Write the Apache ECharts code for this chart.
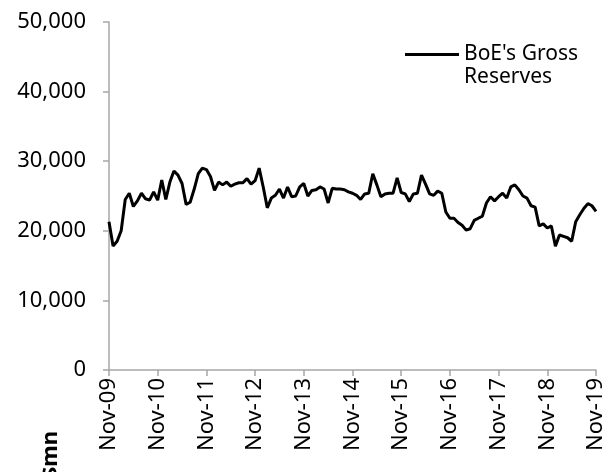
<!DOCTYPE html>
<html>
<head>
    <meta charset="utf-8">
    <title>BoE gross reserves</title>
    <script src="https://cdn.jsdelivr.net/npm/echarts@6/dist/echarts.min.js"></script>
</head>
<body style="margin:0">
<div id="main" style="width:607px;height:472px"></div>
<script type="text/javascript">

    // year ticks shown on the x axis
    var tickLabels = ['Nov-09', 'Nov-10', 'Nov-11', 'Nov-12', 'Nov-13', 'Nov-14',
        'Nov-15', 'Nov-16', 'Nov-17', 'Nov-18', 'Nov-19'];
    var monthNames = ['Nov', 'Dec', 'Jan', 'Feb', 'Mar', 'Apr', 'May', 'Jun', 'Jul', 'Aug', 'Sep', 'Oct'];

    // BoE's gross reserves, $mn, monthly Nov-09 .. Nov-19
    var reserves = [
        21300, 17800, 18500, 20000, 24500, 25400, 23500, 24300, 25400, 24600, 24400, 25600,
        24400, 27300, 24500, 27000, 28600, 28000, 26800, 23800, 24100, 26000, 28200, 29000,
        28800, 27800, 25800, 27000, 26600, 27000, 26400, 26700, 26900, 26900, 27500, 26700,
        27200, 29000, 26300, 23300, 24700, 25100, 26000, 24700, 26300, 24900, 25000, 26300,
        26800, 25000, 25800, 25900, 26300, 26000, 24000, 26100, 26000, 26000, 25900, 25600,
        25400, 25100, 24500, 25300, 25400, 28200, 26600, 24900, 25300, 25400, 25400, 27600,
        25500, 25300, 24200, 25300, 25400, 28000, 26700, 25300, 25100, 25700, 25400, 22700,
        21800, 21800, 21200, 20800, 20100, 20300, 21500, 21800, 22100, 24000, 24900, 24300,
        24900, 25400, 24700, 26300, 26600, 25900, 25000, 24700, 23600, 23400, 20700, 21000,
        20400, 20700, 17800, 19400, 19200, 19000, 18500, 21300, 22300, 23200, 23900, 23600,
        22800
    ];

    // month categories, built from the year tick labels
    var months = [];
    for (var i = 0; i < reserves.length; i++) {
        var yr = tickLabels[Math.floor(i / 12)].slice(4);
        if (i % 12 >= 2) yr = tickLabels[Math.floor(i / 12) + 1].slice(4);
        months.push(i % 12 === 0 ? tickLabels[i / 12] : monthNames[i % 12] + '-' + yr);
    }

    var font = 'Noto Sans';
    var axisColor = '#a6a6a6';

    var myChart = echarts.init(document.getElementById('main'));

    myChart.setOption({
        animation: false,
        textStyle: { fontFamily: font, color: '#000' },
        grid: { left: 109, right: 9, top: 22, bottom: 102 },
        legend: {
            right: 24,
            top: 39,
            itemWidth: 54,
            itemHeight: 3,
            itemGap: 0,
            icon: 'rect',
            textStyle: { fontFamily: font, fontSize: 21, color: '#000' },
            data: ["BoE's Gross Reserves"],
            formatter: function () { return "BoE's Gross"; }
        },
        graphic: [
            {   // legend text wraps onto a second line
                type: 'text', left: 464, top: 67,
                style: { text: 'Reserves', font: '21px "Noto Sans"', fill: '#000' }
            },
            {   // unit label, clipped at the bottom
                type: 'text', left: 40, top: 431, rotation: Math.PI / 2,
                style: { text: '$mn', font: 'bold 22px "Noto Sans"', fill: '#000' }
            }
        ],
        xAxis: {
            type: 'category',
            data: months,
            boundaryGap: false,
            axisLine: { lineStyle: { color: axisColor, width: 1.5 } },
            axisTick: {
                length: 6,
                lineStyle: { color: axisColor, width: 1.5 },
                interval: function (i) { return i % 12 === 0; }
            },
            axisLabel: {
                rotate: 90,
                margin: 8,
                fontSize: 22,
                color: '#000',
                interval: function (i) { return i % 12 === 0; }
            }
        },
        yAxis: {
            type: 'value',
            min: 0,
            max: 50000,
            interval: 10000,
            splitLine: { show: false },
            axisLine: { show: true, lineStyle: { color: axisColor, width: 1.5 } },
            axisTick: { show: true, length: 6, lineStyle: { color: axisColor, width: 1.5 } },
            axisLabel: {
                margin: 23,
                fontSize: 22,
                color: '#000',
                formatter: function (v) { return v.toLocaleString('en-US'); }
            }
        },
        series: [
            {
                name: "BoE's Gross Reserves",
                type: 'line',
                data: reserves,
                showSymbol: false,
                itemStyle: { color: '#000' },
                lineStyle: { color: '#000', width: 3 }
            }
        ]
    });
</script>
</body>
</html>
